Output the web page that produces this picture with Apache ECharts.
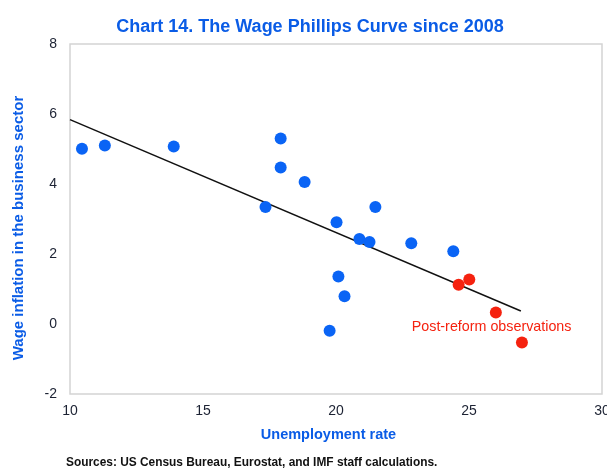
<!DOCTYPE html>
<html>
<head>
<meta charset="utf-8">
<script src="https://cdn.jsdelivr.net/npm/echarts@6/dist/echarts.min.js"></script>
<style>
html,body{margin:0;padding:0;background:#fff;}
#chart{width:607px;height:470px;}
</style>
</head>
<body>
<div id="chart"></div>
<script>
var title = 'Chart 14. The Wage Phillips Curve since 2008';
var xAxisName = 'Unemployment rate';
var yAxisName = 'Wage inflation in the business sector';
var sourceText = 'Sources: US Census Bureau, Eurostat, and IMF staff calculations.';
var annotationText = 'Post-reform observations';

// pre-reform observations: [unemployment rate, wage inflation]
var preReform = [
  [10.45, 5.01], [11.31, 5.10], [13.90, 5.07], [17.92, 5.30], [17.92, 4.47],
  [18.82, 4.06], [17.35, 3.34], [20.02, 2.91], [21.48, 3.34], [20.88, 2.43],
  [21.26, 2.34], [22.83, 2.31], [24.41, 2.08], [20.09, 1.36], [20.32, 0.79],
  [19.76, -0.19]
];
// post-reform observations
var postReform = [
  [24.61, 1.12], [25.01, 1.27], [26.01, 0.33], [26.99, -0.53]
];
// fitted trend line endpoints
var trendLine = [[10.0, 5.84], [26.95, 0.37]];
// annotation anchor
var annotationAt = [25.85, -0.09];

var xTicks = [10, 15, 20, 25, 30];
var yTicks = [-2, 0, 2, 4, 6, 8];

var FONT = '"Liberation Sans", Arial, Helvetica, sans-serif';
var BLUE_TEXT = '#0a5ce6';

var chart = echarts.init(document.getElementById('chart'), null, {renderer: 'canvas'});
chart.setOption({
  animation: false,
  backgroundColor: '#ffffff',
  title: {
    text: title,
    left: 305, top: 13, textAlign: 'center',
    textStyle: {fontFamily: FONT, fontSize: 18, fontWeight: 'bold', color: BLUE_TEXT}
  },
  graphic: [{
    type: 'text', left: 66, top: 457,
    style: {text: sourceText, font: 'bold 11.9px ' + FONT, fill: '#111'}
  }],
  grid: {left: 70, right: 5, top: 44, bottom: 76, show: true, borderColor: '#d4d4d4', borderWidth: 1.5,
    backgroundColor: 'transparent', outerBoundsMode: 'none', containLabel: false},
  xAxis: {
    type: 'value', min: xTicks[0], max: xTicks[xTicks.length - 1], interval: 5,
    name: xAxisName, nameLocation: 'middle', nameGap: 33,
    nameTextStyle: {fontFamily: FONT, fontSize: 14.5, fontWeight: 'bold', color: BLUE_TEXT, padding: [0, 15, 0, 0]},
    axisLine: {show: false}, axisTick: {show: false}, splitLine: {show: false},
    axisLabel: {fontFamily: FONT, fontSize: 14, color: '#1c2233', margin: 10}
  },
  yAxis: {
    type: 'value', min: yTicks[0], max: yTicks[yTicks.length - 1], interval: 2,
    name: yAxisName, nameLocation: 'middle', nameGap: 44, nameRotate: 90,
    nameTextStyle: {fontFamily: FONT, fontSize: 15, fontWeight: 'bold', color: BLUE_TEXT, padding: [0, 18, 0, 0]},
    axisLine: {show: false}, axisTick: {show: false}, splitLine: {show: false},
    axisLabel: {fontFamily: FONT, fontSize: 14, color: '#1c2233', margin: 13}
  },
  series: [
    {
      type: 'line', data: trendLine, symbol: 'none', z: 1,
      lineStyle: {color: '#111', width: 1.5}
    },
    {
      type: 'scatter', data: preReform, symbolSize: 12, z: 3,
      itemStyle: {color: '#0a64f5', opacity: 1}
    },
    {
      type: 'scatter', data: postReform, symbolSize: 12, z: 3,
      itemStyle: {color: '#f5220f', opacity: 1},
      markPoint: {
        symbol: 'circle', symbolSize: 0, silent: true,
        data: [{coord: annotationAt}],
        label: {show: true, position: 'inside', formatter: annotationText,
          fontFamily: FONT, fontSize: 14.3, color: '#f5220f'}
      }
    }
  ]
});
</script>
</body>
</html>
